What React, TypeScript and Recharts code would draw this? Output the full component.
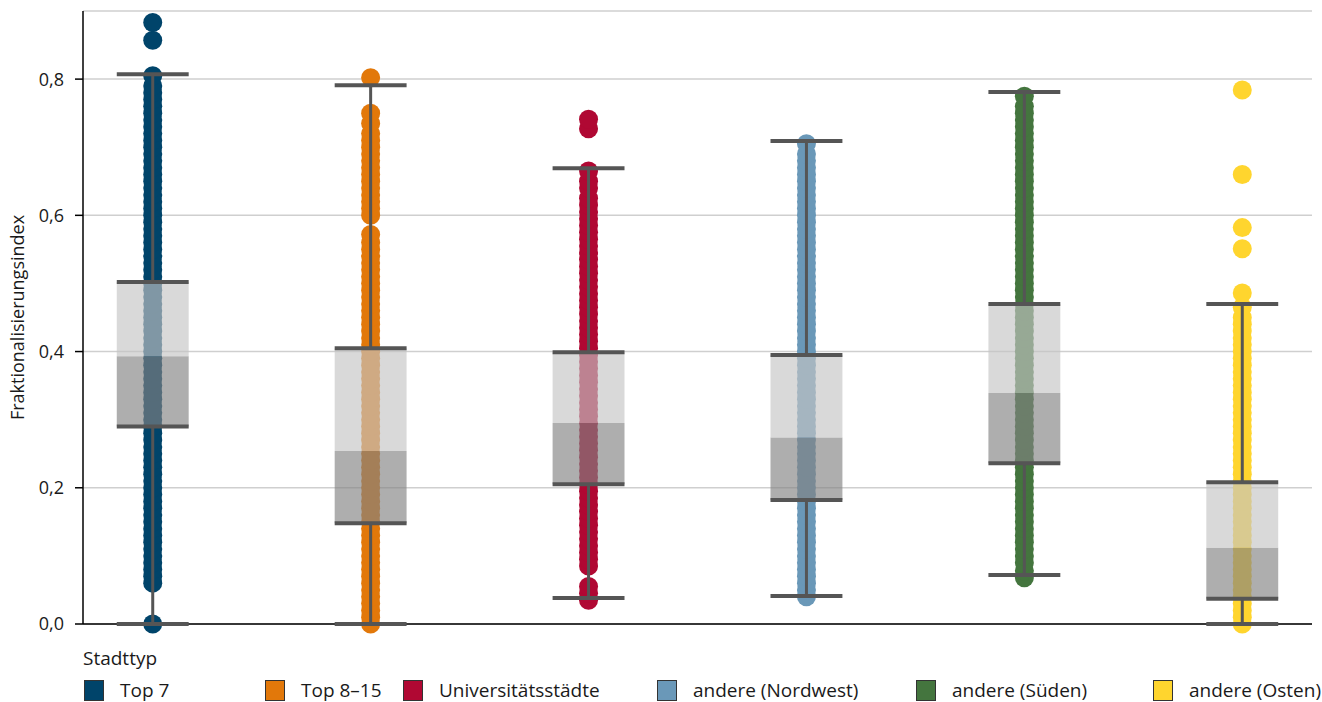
import {
  ComposedChart,
  Scatter,
  XAxis,
  YAxis,
  CartesianGrid,
  ReferenceArea,
} from "recharts";

const categories = [
  "Top 7",
  "Top 8–15",
  "Universitätsstädte",
  "andere (Nordwest)",
  "andere (Süden)",
  "andere (Osten)",
];
const colors = ["#00446A", "#E2780A", "#B00833", "#6A98B8", "#44753E", "#FFD52E"];

// box plot statistics per Stadttyp
const whiskerLow = [0.0, 0.0, 0.038, 0.041, 0.072, 0.0];
const q1 = [0.29, 0.148, 0.205, 0.182, 0.236, 0.037];
const median = [0.393, 0.254, 0.295, 0.274, 0.339, 0.112];
const q3 = [0.502, 0.405, 0.399, 0.395, 0.47, 0.208];
const whiskerHigh = [0.807, 0.791, 0.669, 0.709, 0.781, 0.47];

// single observations (strip)
const top7Pts = [
  0.0, 0.06, 0.07, 0.08, 0.09, 0.1, 0.11, 0.12, 0.13, 0.14, 0.15, 0.16, 0.17, 0.18, 0.19, 0.2,
  0.21, 0.22, 0.23, 0.24, 0.25, 0.26, 0.27, 0.28, 0.29, 0.3, 0.31, 0.32, 0.33, 0.34, 0.35, 0.36,
  0.37, 0.38, 0.39, 0.4, 0.41, 0.42, 0.43, 0.44, 0.45, 0.46, 0.47, 0.48, 0.49, 0.5, 0.51, 0.52,
  0.53, 0.54, 0.55, 0.56, 0.57, 0.58, 0.59, 0.6, 0.61, 0.62, 0.63, 0.64, 0.65, 0.66, 0.67, 0.68,
  0.69, 0.7, 0.71, 0.72, 0.73, 0.74, 0.75, 0.76, 0.77, 0.78, 0.79, 0.805, 0.857, 0.883,
];
const top815Pts = [
  0.0, 0.01, 0.02, 0.03, 0.04, 0.05, 0.06, 0.07, 0.08, 0.09, 0.1, 0.11, 0.12, 0.13, 0.14, 0.15,
  0.16, 0.17, 0.18, 0.19, 0.2, 0.21, 0.22, 0.23, 0.24, 0.25, 0.26, 0.27, 0.28, 0.29, 0.3, 0.31,
  0.32, 0.33, 0.34, 0.35, 0.36, 0.37, 0.38, 0.39, 0.4, 0.41, 0.42, 0.43, 0.44, 0.45, 0.46, 0.47,
  0.48, 0.49, 0.5, 0.51, 0.52, 0.53, 0.54, 0.55, 0.56, 0.572, 0.6, 0.61, 0.62, 0.63, 0.64, 0.65,
  0.66, 0.67, 0.68, 0.69, 0.7, 0.71, 0.72, 0.735, 0.75, 0.802,
];
const uniPts = [
  0.035, 0.045, 0.055, 0.085, 0.095, 0.105, 0.115, 0.125, 0.135, 0.145, 0.155, 0.165, 0.175,
  0.185, 0.195, 0.205, 0.215, 0.225, 0.235, 0.245, 0.255, 0.265, 0.275, 0.285, 0.295, 0.305,
  0.315, 0.325, 0.335, 0.345, 0.355, 0.365, 0.375, 0.385, 0.395, 0.405, 0.415, 0.425, 0.435,
  0.445, 0.455, 0.465, 0.475, 0.485, 0.495, 0.505, 0.515, 0.525, 0.535, 0.545, 0.555, 0.565,
  0.575, 0.585, 0.595, 0.605, 0.615, 0.625, 0.64, 0.65, 0.665, 0.727, 0.741,
];
const nordwestPts = [
  0.04, 0.05, 0.06, 0.07, 0.08, 0.09, 0.1, 0.11, 0.12, 0.13, 0.14, 0.15, 0.16, 0.17, 0.18, 0.19,
  0.2, 0.21, 0.22, 0.23, 0.24, 0.25, 0.26, 0.27, 0.28, 0.29, 0.3, 0.31, 0.32, 0.33, 0.34, 0.35,
  0.36, 0.37, 0.38, 0.39, 0.4, 0.41, 0.42, 0.43, 0.44, 0.45, 0.46, 0.47, 0.48, 0.49, 0.5, 0.51,
  0.52, 0.53, 0.54, 0.55, 0.56, 0.57, 0.58, 0.59, 0.6, 0.61, 0.62, 0.63, 0.64, 0.65, 0.66, 0.67,
  0.68, 0.69, 0.705,
];
const suedenPts = [
  0.068, 0.078, 0.09, 0.1, 0.11, 0.12, 0.13, 0.14, 0.15, 0.16, 0.17, 0.18, 0.19, 0.2, 0.21,
  0.22, 0.23, 0.24, 0.25, 0.26, 0.27, 0.28, 0.29, 0.3, 0.31, 0.32, 0.33, 0.34, 0.35, 0.36, 0.37,
  0.38, 0.39, 0.4, 0.41, 0.42, 0.43, 0.44, 0.45, 0.46, 0.47, 0.48, 0.49, 0.5, 0.51, 0.52, 0.53,
  0.54, 0.55, 0.56, 0.57, 0.58, 0.59, 0.6, 0.61, 0.62, 0.63, 0.64, 0.65, 0.66, 0.67, 0.68, 0.69,
  0.7, 0.71, 0.72, 0.73, 0.74, 0.75, 0.76, 0.775,
];
const ostenPts = [
  0.0, 0.01, 0.02, 0.03, 0.04, 0.05, 0.06, 0.07, 0.08, 0.09, 0.1, 0.11, 0.12, 0.13, 0.14, 0.15,
  0.16, 0.17, 0.18, 0.19, 0.2, 0.21, 0.22, 0.23, 0.24, 0.25, 0.26, 0.27, 0.28, 0.29, 0.3, 0.31,
  0.32, 0.33, 0.34, 0.35, 0.36, 0.37, 0.38, 0.39, 0.4, 0.41, 0.42, 0.43, 0.44, 0.45, 0.465,
  0.486, 0.551, 0.582, 0.66, 0.784,
];
const points = [top7Pts, top815Pts, uniPts, nordwestPts, suedenPts, ostenPts];

const yTicks = [0, 0.2, 0.4, 0.6, 0.8];

const HALF = 0.165;
const FONT = "'Open Sans', sans-serif";
const INK = "#555";
const legendLeft = [84, 265, 403, 657, 916, 1153];

const dotShape = (color: string) => (props: any) =>
  <circle cx={props.cx} cy={props.cy} r={9.5} fill={color} />;
const noShape = () => <g />;

export default function App() {
  return (
    <div style={{ position: "relative", width: 1322, height: 702, background: "#fff" }}>
      <style>{`body{margin:0}`}</style>
      <ComposedChart
        width={1322}
        height={702}
        margin={{ top: 11, right: 10, left: 0, bottom: 77 }}
      >
        <CartesianGrid horizontal vertical={false} stroke="#cfcfcf" strokeWidth={1.5} />
        <XAxis
          type="number"
          dataKey="x"
          domain={[-0.32, 5.32]}
          allowDataOverflow
          tick={false}
          tickLine={false}
          height={1}
          axisLine={{ stroke: "#000", strokeWidth: 1.5 }}
        />
        <YAxis
          type="number"
          dataKey="y"
          domain={[0, 0.9]}
          ticks={yTicks}
          width={83}
          tickSize={8}
          tickMargin={11}
          axisLine={{ stroke: "#000", strokeWidth: 1.5 }}
          tickLine={{ stroke: "#000", strokeWidth: 1.5 }}
          tick={{ fill: "#1a1a1a", fontSize: 18, fontFamily: FONT }}
          tickFormatter={(v: number) => v.toFixed(1).replace(".", ",")}
          label={{
            value: "Fraktionalisierungsindex",
            angle: -90,
            position: "center",
            dx: -24,
            style: { fill: "#1a1a1a", fontSize: 18, fontFamily: FONT },
          }}
        />
        {points.map((pts, i) => (
          <Scatter
            key={categories[i]}
            name={categories[i]}
            data={pts.map((v) => ({ x: i, y: v }))}
            shape={dotShape(colors[i])}
            isAnimationActive={false}
          />
        ))}
        {categories.map((c, i) => (
          <ReferenceArea
            key={"lo" + c}
            x1={i - HALF}
            x2={i + HALF}
            y1={q1[i]}
            y2={median[i]}
            fill="#838383"
            fillOpacity={0.65}
            stroke="none"
            zIndex={650}
          />
        ))}
        {categories.map((c, i) => (
          <ReferenceArea
            key={"hi" + c}
            x1={i - HALF}
            x2={i + HALF}
            y1={median[i]}
            y2={q3[i]}
            fill="#c4c4c4"
            fillOpacity={0.65}
            stroke="none"
            zIndex={650}
          />
        ))}
        {/* whiskers */}
        {categories.map((c, i) => (
          <Scatter
            key={"wl" + c}
            data={[{ x: i, y: whiskerLow[i] }, { x: i, y: q1[i] }]}
            line={{ stroke: INK, strokeWidth: 3 }}
            shape={noShape}
            isAnimationActive={false}
            zIndex={700}
          />
        ))}
        {categories.map((c, i) => (
          <Scatter
            key={"wh" + c}
            data={[{ x: i, y: q3[i] }, { x: i, y: whiskerHigh[i] }]}
            line={{ stroke: INK, strokeWidth: 3 }}
            shape={noShape}
            isAnimationActive={false}
            zIndex={700}
          />
        ))}
        {categories.map((c, i) =>
          [whiskerLow[i], q1[i], q3[i], whiskerHigh[i]].map((v, k) => (
            <Scatter
              key={"cap" + c + k}
              data={[{ x: i - HALF, y: v }, { x: i + HALF, y: v }]}
              line={{ stroke: INK, strokeWidth: 4 }}
              shape={noShape}
              isAnimationActive={false}
              zIndex={710}
            />
          ))
        )}
      </ComposedChart>

      {/* Legend */}
      <div
        style={{
          position: "absolute",
          left: 83,
          top: 645,
          fontFamily: FONT,
          fontSize: 19,
          color: "#1a1a1a",
        }}
      >
        Stadttyp
      </div>
      {categories.map((c, i) => (
        <div
          key={"lg" + c}
          style={{
            position: "absolute",
            left: legendLeft[i],
            top: 679,
            display: "flex",
            alignItems: "center",
            fontFamily: FONT,
            fontSize: 19,
            color: "#1a1a1a",
            whiteSpace: "nowrap",
            lineHeight: "23px",
          }}
        >
          <span
            style={{
              display: "inline-block",
              width: 20,
              height: 21,
              boxSizing: "border-box",
              background: colors[i],
              border: "1px solid #333",
              marginRight: 16,
            }}
          />
          {c}
        </div>
      ))}
    </div>
  );
}
